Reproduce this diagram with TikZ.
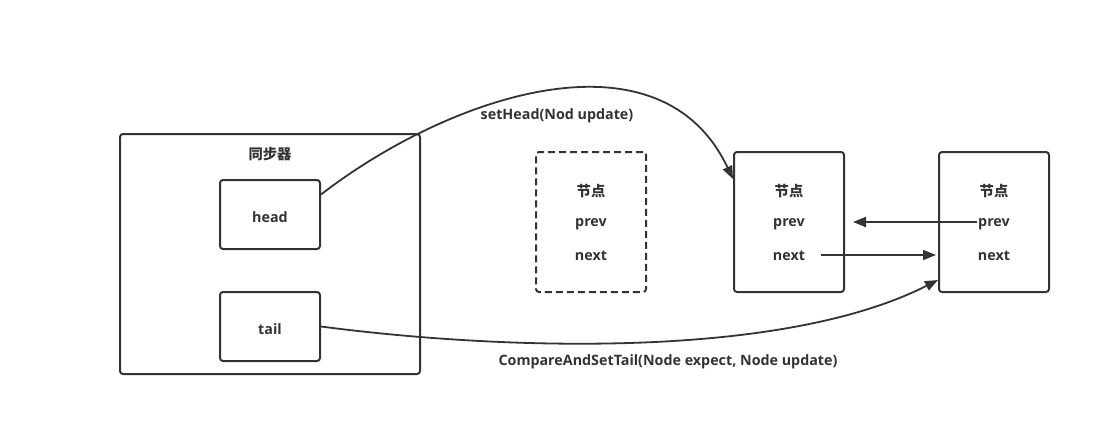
\documentclass[tikz,border=0pt]{standalone}
\usepackage{fontspec}
\setmainfont{Open Sans}
\newfontfamily\cjk{Noto Sans CJK SC}
\usetikzlibrary{arrows.meta,calc}
\definecolor{ink}{HTML}{333333}
\tikzset{
  box/.style={draw=ink,line width=2pt,rounded corners=3pt,inner sep=0pt},
  dashbox/.style={dash pattern=on 7pt off 4pt},
  lbl/.style={text=ink,inner sep=1.5pt},
  arr/.style={draw=ink,line width=1.8pt,-{Triangle[length=13pt,width=10pt]}}
}
\begin{document}
\begin{tikzpicture}[x=1pt,y=-1pt,font=\bfseries\fontsize{14.3}{16}\selectfont]
\pgfmathsetmacro{\kbw}{110}
\pgfmathsetmacro{\kbh}{140}
\pgfmathsetmacro{\kby}{222}
\useasboundingbox (0,0) rectangle (1111,440);
% synchronizer with head and tail
\node[box,minimum width=300pt,minimum height=240pt](sync) at (270,254){};
\node[lbl](sync-t) at (270,154){\cjk 同步器};
\node[box,minimum width=100pt,minimum height=69pt](head) at (270,214.5){};
\node[lbl](head-t) at (270,217){head};
\node[box,minimum width=100pt,minimum height=69pt](tail) at (270,326.5){};
\node[lbl](tail-t) at (270,329){tail};
% queue nodes
\foreach \kx/\nn/\ls in {591/nd/dashbox,789/na/solid,994/nb/solid}{
  \node[box,\ls,minimum width=\kbw pt,minimum height=\kbh pt](\nn) at (\kx,\kby){};
  \node[lbl](\nn-t) at (\kx,\kby-31){\cjk 节点};
  \node[lbl](\nn-p) at (\kx,\kby+2.5){prev};
  \node[lbl](\nn-n) at (\kx,\kby+34){next};
}
\node[lbl](sethd) at (557,116){setHead(Nod update)};
\node[lbl](cas) at (668,362){CompareAndSetTail(Node expect, Node update)};
% links
\draw[arr] ([yshift=20pt]head.east) .. controls (450,95) and (660,25) .. ([yshift=-28pt]na.north west);
\draw[arr] (tail.east) .. controls (500,350) and (780,360) .. ([yshift=13pt]nb.south west);
\draw[arr] ($(nb-p.west)+(0,-2.5)$) -- ($(nb-p.west -| na.east)+(8,-2.5)$);
\draw[arr] ($(na-n.east)+(14,-1)$) -- ($(na-n.east -| nb.west)+(-2,-1)$);
\end{tikzpicture}
\end{document}
